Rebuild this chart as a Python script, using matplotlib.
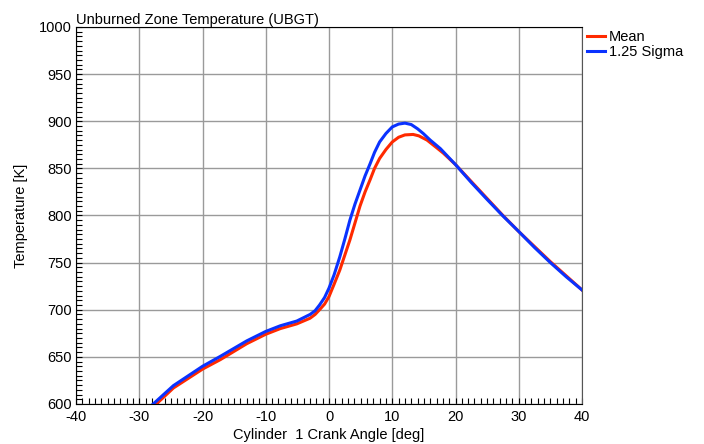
import matplotlib
matplotlib.use("Agg")
import matplotlib.pyplot as plt
from matplotlib.ticker import MultipleLocator

plt.rcParams['font.family'] = ['Liberation Sans', 'DejaVu Sans']
plt.rcParams['axes.unicode_minus'] = False

# crank angle [deg] and unburned zone temperature [K]
mean_angle = [-27.3, -24.6, -20, -17.2, -13, -10, -7.7, -5.1, -3, -2.2, -1.5, -0.7, 0,
              0.8, 1.7, 2.5, 3.3, 4.1, 4.9, 5.7, 6.5, 7.2, 8, 9, 10, 11, 12, 13.3,
              14.2, 15.5, 17, 18.1, 20, 22.5, 25, 27.5, 30, 32.5, 35, 37.5, 40]
mean_temp = [600, 617, 637, 647, 664, 674, 680, 685, 691, 695, 700, 706, 714,
             727, 742, 758, 774, 792, 810, 825, 838, 850, 860.5, 870, 878, 883, 885.5, 886,
             884.5, 880, 872, 866, 854, 836, 818, 800, 783, 767, 751, 736, 721]

sigma_angle = [-27.8, -24.6, -20, -17.2, -13, -10, -7.7, -5.1, -3, -2.2, -1.5, -0.7, 0,
               0.8, 1.7, 2.5, 3.3, 4.1, 4.9, 5.7, 6.5, 7.2, 8, 9, 10, 11, 12, 13,
               14, 14.9, 16, 17.6, 20, 22.5, 25, 27.5, 30, 32.5, 35, 37.5, 40]
sigma_temp = [600, 619.5, 640, 650.5, 667, 677, 683, 688, 695, 699, 705, 713, 723,
              737, 756, 775, 795, 812, 827, 842, 855, 867, 878, 887, 894, 897, 898, 896.5,
              892, 887, 880, 871, 854, 835, 817, 799.5, 783, 766, 750, 735, 721]

fig = plt.figure(figsize=(7.04, 4.44), dpi=100)
ax = fig.add_axes([0.108, 0.0901, 0.7187, 0.8491])

ax.plot(mean_angle, mean_temp, color='#ff2a00', lw=2.2, label='Mean',
        solid_joinstyle='round')
ax.plot(sigma_angle, sigma_temp, color='#0a32ff', lw=2.2, label='1.25 Sigma',
        solid_joinstyle='round')

ax.set_xlim(-40, 40)
ax.set_ylim(600, 1000)
ax.xaxis.set_major_locator(MultipleLocator(10))
ax.xaxis.set_minor_locator(MultipleLocator(1))
ax.yaxis.set_major_locator(MultipleLocator(50))
ax.yaxis.set_minor_locator(MultipleLocator(5))
ax.tick_params(which='both', direction='in', labelsize=10.5,
               top=False, right=False)
ax.tick_params(axis='x', pad=4)
ax.tick_params(axis='y', pad=3)
ax.tick_params(which='major', length=4, width=0.8)
ax.tick_params(which='minor', length=4, width=0.8)
ax.grid(True, which='major', color='#9a9a9a', lw=1.0)

ax.set_xlabel('Cylinder  1 Crank Angle [deg]', fontsize=10.5, labelpad=3)
ax.set_ylabel('Temperature [K]', fontsize=10.5, labelpad=8)
ax.set_title('Unburned Zone Temperature (UBGT)', fontsize=10.5, loc='left', pad=2)

for side in ['left', 'bottom', 'top']:
    ax.spines[side].set_color('black')
ax.spines['right'].set_color('#555555')

ax.legend(loc='upper left', bbox_to_anchor=(1.005, 1.0), frameon=False,
          fontsize=10.5, handlelength=1.2, handletextpad=0.25,
          borderaxespad=0.1, labelspacing=0.1, borderpad=0.1)

fig.savefig('out.png', dpi=100)
